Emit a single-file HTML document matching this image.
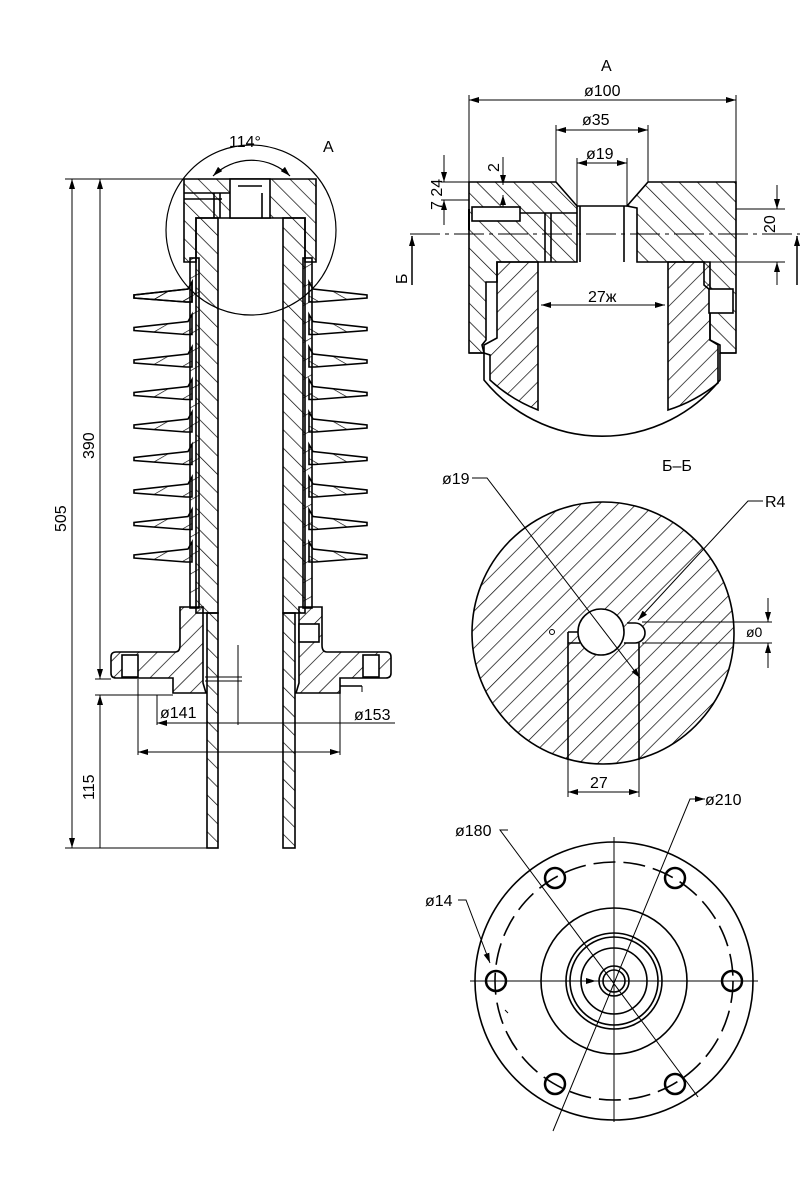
<!DOCTYPE html>
<html><head><meta charset="utf-8"><style>
html,body{margin:0;padding:0;background:#fff}
svg{display:block}
text{font-family:"Liberation Sans","DejaVu Sans",sans-serif;fill:#000}
</style></head><body>
<svg width="800" height="1200" viewBox="0 0 800 1200" xmlns="http://www.w3.org/2000/svg">
<defs>
<pattern id="hf" patternUnits="userSpaceOnUse" width="13" height="13" patternTransform="rotate(45)">
<line x1="0" y1="0" x2="0" y2="13" stroke="#000" stroke-width="1.4"/></pattern>
<pattern id="hb" patternUnits="userSpaceOnUse" width="13" height="13" patternTransform="rotate(-45)">
<line x1="0" y1="0" x2="0" y2="13" stroke="#000" stroke-width="1.4"/></pattern>
<pattern id="hs" patternUnits="userSpaceOnUse" width="16" height="16" patternTransform="rotate(60)">
<line x1="0" y1="0" x2="0" y2="16" stroke="#000" stroke-width="1.3"/></pattern>
<marker id="ar" viewBox="0 0 10 6" refX="10" refY="3" markerWidth="10" markerHeight="6" orient="auto-start-reverse" markerUnits="userSpaceOnUse">
<path d="M0,0 L10,3 L0,6 z" fill="#000"/></marker>
</defs>
<g stroke="#000" stroke-width="1.6" fill="none">

<!-- sheds -->
<g>
<path id="shL" d="M192,282 L188,289 L134,295 L134,298 L186,302 L192,302 z" fill="url(#hs)"/>
</g>
<g id="sheds">
<use href="#shL" y="0"/><use href="#shL" y="32.5"/><use href="#shL" y="65"/><use href="#shL" y="97.5"/><use href="#shL" y="130"/><use href="#shL" y="162.5"/><use href="#shL" y="195"/><use href="#shL" y="227.5"/><use href="#shL" y="260"/>
</g>
<g transform="translate(501,0) scale(-1,1)">
<use href="#sheds"/>
</g>
<rect x="190" y="258" width="9" height="350" fill="url(#hs)"/>
<rect x="303" y="258" width="9" height="350" fill="url(#hs)"/>
<!-- cap -->
<path d="M184,179 L316,179 L316,262 L305,262 L305,218 L196,218 L196,262 L184,262 z" fill="url(#hb)"/>
<rect x="230" y="179" width="40" height="39" fill="#fff"/>
<line x1="238" y1="186" x2="262" y2="186"/>
<line x1="184" y1="193" x2="230" y2="193"/>
<line x1="184" y1="199" x2="222" y2="199"/>
<line x1="214" y1="193" x2="214" y2="218"/><line x1="220" y1="193" x2="220" y2="218"/>
<line x1="262" y1="193" x2="262" y2="218"/>
<!-- tube -->
<rect x="196" y="218" width="22" height="395" fill="url(#hb)"/>
<rect x="283" y="218" width="22" height="395" fill="url(#hb)"/>
<rect x="207" y="613" width="11" height="235" fill="url(#hb)"/>
<rect x="283" y="613" width="12" height="235" fill="url(#hb)"/>
<!-- flange -->
<path d="M180,607 L203,607 L203,683 L206,693 L173,693 L173,678 L116,678 Q111,678 111,673 L111,657 Q111,652 116,652 L175,652 Q180,652 180,645 z" fill="url(#hf)"/>
<rect x="122" y="655" width="16" height="22" fill="#fff"/>
<path d="M322,607 L299,607 L299,683 L296,693 L340,693 L340,678 L386,678 Q391,678 391,673 L391,657 Q391,652 386,652 L327,652 Q322,652 322,645 z" fill="url(#hf)"/>
<rect x="363" y="655" width="16" height="22" fill="#fff"/>
<rect x="299" y="624" width="20" height="18" fill="#fff"/>
<line x1="340" y1="686" x2="362" y2="686"/><line x1="362" y1="686" x2="362" y2="692" stroke-width="1"/>
<circle cx="251" cy="230" r="85" stroke-width="1.2"/>
<path d="M213,176 A55,55 0 0 1 290,176" stroke-width="1.2" marker-start="url(#ar)" marker-end="url(#ar)"/>
</g>
<text x="229" y="147" font-size="16">114°</text>
<text x="323" y="152" font-size="16">A</text>

<g stroke="#000" stroke-width="1" fill="none">
<line x1="65" y1="179" x2="184" y2="179"/>
<line x1="65" y1="848" x2="207" y2="848"/>
<line x1="95" y1="679" x2="111" y2="679"/>
<line x1="95" y1="695" x2="173" y2="695"/>
<line x1="72" y1="179" x2="72" y2="848" marker-start="url(#ar)" marker-end="url(#ar)"/>
<line x1="100" y1="179" x2="100" y2="679" marker-start="url(#ar)" marker-end="url(#ar)"/>
<line x1="100" y1="695" x2="100" y2="848" marker-start="url(#ar)"/>
<line x1="157" y1="695" x2="157" y2="725"/>
<line x1="340" y1="693" x2="340" y2="755"/>
<line x1="138" y1="679" x2="138" y2="755"/>
<line x1="157" y1="723" x2="395" y2="723" marker-start="url(#ar)"/>
<line x1="138" y1="752" x2="340" y2="752" marker-start="url(#ar)" marker-end="url(#ar)"/>
<line x1="238" y1="645" x2="238" y2="725"/>
<line x1="205" y1="677" x2="242" y2="677"/><line x1="205" y1="681" x2="242" y2="681"/>
</g>
<text x="160" y="718" font-size="16">ø141</text>
<text x="354" y="720" font-size="16">ø153</text>
<text transform="translate(66,532) rotate(-90)" font-size="16">505</text>
<text transform="translate(94,459) rotate(-90)" font-size="16">390</text>
<text transform="translate(94,800) rotate(-90)" font-size="16">115</text>

<!-- DETAIL A -->
<g stroke="#000" stroke-width="1.6" fill="none">
<path d="M469,182 L556,182 L577,206 L577,262 L497,262 L497,282 L486,282 L486,340 L482,345 L484,353 L469,353 z" fill="url(#hb)"/>
<path d="M648,182 L736,182 L736,353 L720,353 L720,345 L710,340 L710,290 L704,285 L704,262 L637,262 L637,208 L627,206 z" fill="url(#hb)"/>
<rect x="472" y="207" width="48" height="14" fill="#fff"/>
<line x1="520" y1="213" x2="577" y2="213"/>
<line x1="469" y1="209" x2="469" y2="230" stroke-width="2"/>
<line x1="545" y1="213" x2="545" y2="262"/><line x1="551" y1="213" x2="551" y2="262"/>
<line x1="580" y1="206" x2="580" y2="262"/><line x1="624" y1="206" x2="624" y2="262"/>
<line x1="577" y1="206" x2="627" y2="206"/>
<path d="M497,262 L538,262 L538,410 A150,150 0 0 1 490,380 L490,355 L484,353 L484,345 L497,338 z" fill="url(#hf)"/>
<path d="M668,262 L710,262 L710,340 L718,345 L718,383 A150,150 0 0 1 668,410 z" fill="url(#hf)"/>
<rect x="709" y="289" width="24" height="24" fill="#fff"/>
<path d="M469,353 L484,353 M736,353 L720,353"/>
<path d="M484,353 L484,380 A152,152 0 0 0 720,380 L720,353"/>
</g>
<g stroke="#000" stroke-width="1" fill="none">
<line x1="469" y1="182" x2="469" y2="95"/><line x1="736" y1="182" x2="736" y2="95"/>
<line x1="469" y1="100" x2="736" y2="100" marker-start="url(#ar)" marker-end="url(#ar)"/>
<line x1="556" y1="182" x2="556" y2="125"/><line x1="648" y1="182" x2="648" y2="125"/>
<line x1="556" y1="130" x2="648" y2="130" marker-start="url(#ar)" marker-end="url(#ar)"/>
<line x1="577" y1="206" x2="577" y2="158"/><line x1="627" y1="206" x2="627" y2="158"/>
<line x1="577" y1="163" x2="627" y2="163" marker-start="url(#ar)" marker-end="url(#ar)"/>
<line x1="538" y1="262" x2="538" y2="310"/><line x1="668" y1="262" x2="668" y2="310"/>
<line x1="541" y1="305" x2="665" y2="305" marker-start="url(#ar)" marker-end="url(#ar)"/>
<line x1="441" y1="182" x2="469" y2="182"/><line x1="441" y1="200" x2="469" y2="200"/>
<line x1="444" y1="155" x2="444" y2="182" marker-end="url(#ar)"/>
<line x1="444" y1="200" x2="444" y2="225" marker-start="url(#ar)"/>
<line x1="503" y1="157" x2="503" y2="185" marker-end="url(#ar)"/>
<line x1="503" y1="207" x2="503" y2="195" marker-end="url(#ar)"/>
<line x1="736" y1="209" x2="785" y2="209"/><line x1="710" y1="262" x2="785" y2="262"/>
<line x1="777" y1="185" x2="777" y2="209" marker-end="url(#ar)"/>
<line x1="777" y1="285" x2="777" y2="262" marker-end="url(#ar)"/>
<line x1="410" y1="234" x2="800" y2="234" stroke-dasharray="30,5,4,5"/>
<line x1="412" y1="285" x2="412" y2="236" stroke-width="1.5" marker-end="url(#ar)"/>
<line x1="797" y1="285" x2="797" y2="236" stroke-width="1.5" marker-end="url(#ar)"/>
</g>
<text x="601" y="71" font-size="16">A</text>
<text x="584" y="96" font-size="16">ø100</text>
<text x="582" y="125" font-size="16">ø35</text>
<text x="586" y="159" font-size="16">ø19</text>
<text x="588" y="302" font-size="16">27ж</text>
<text transform="translate(442,210) rotate(-90)" font-size="16">7 24</text>
<text transform="translate(499,172) rotate(-90)" font-size="16">2</text>
<text transform="translate(775,233) rotate(-90)" font-size="16">20</text>
<text transform="translate(407,284) rotate(-90)" font-size="16">Б</text>

<!-- Б-Б -->
<g stroke="#000" stroke-width="1.6" fill="none">
<circle cx="603" cy="633" r="131" fill="url(#hf)"/>
<circle cx="601" cy="632" r="23" fill="#fff"/>
<path d="M627,623 L635,623 A7,7 0 0 1 635,643 L624,643" fill="#fff"/>
<path d="M568,632 L568,760 M639,643 L639,760 M568,632 L578,632 M568,643 L580,643"/>
<circle cx="552" cy="632" r="2.5" stroke-width="1"/>
</g>
<g stroke="#000" stroke-width="1" fill="none">
<line x1="568" y1="760" x2="568" y2="797"/><line x1="639" y1="760" x2="639" y2="797"/>
<line x1="568" y1="792" x2="639" y2="792" marker-start="url(#ar)" marker-end="url(#ar)"/>
<path d="M472,478 L487,478 L640,678" marker-end="url(#ar)"/>
<path d="M763,501 L748,501 L638,620" marker-end="url(#ar)"/>
<line x1="642" y1="622" x2="772" y2="622"/><line x1="642" y1="643" x2="772" y2="643"/>
<line x1="768" y1="598" x2="768" y2="622" marker-end="url(#ar)"/>
<line x1="768" y1="668" x2="768" y2="643" marker-end="url(#ar)"/>
</g>
<text x="662" y="471" font-size="16">Б–Б</text>
<text x="442" y="484" font-size="16">ø19</text>
<text x="765" y="507" font-size="16">R4</text>
<text x="746" y="637" font-size="14">ø0</text>
<text x="590" y="788" font-size="16">27</text>

<!-- BOTTOM VIEW -->
<g stroke="#000" stroke-width="1.6" fill="none">
<circle cx="614" cy="981" r="139"/>
<circle cx="614" cy="981" r="119" stroke-dasharray="22,8"/>
<circle cx="614" cy="981" r="73"/>
<circle cx="614" cy="981" r="48"/>
<circle cx="614" cy="981" r="44"/>
<circle cx="614" cy="981" r="33"/>
<circle cx="614" cy="981" r="15"/>
<circle cx="614" cy="981" r="11"/>
<g stroke-width="2.5">
<circle cx="496" cy="981" r="10"/><circle cx="732" cy="981" r="10"/>
<circle cx="555" cy="878" r="10"/><circle cx="675" cy="878" r="10"/>
<circle cx="555" cy="1084" r="10"/><circle cx="675" cy="1084" r="10"/>
</g>
</g>
<g stroke="#000" stroke-width="1" fill="none">
<line x1="470" y1="981" x2="758" y2="981"/>
<line x1="614" y1="837" x2="614" y2="1122"/>
<path d="M508,830 L500,830 L698,1097"/>
<path d="M705,799 L690,799 L553,1131" marker-start="url(#ar)"/>
<path d="M458,900 L466,900 L490,963" marker-end="url(#ar)"/>
<line x1="505" y1="1010" x2="508" y2="1013"/>
<line x1="580" y1="981" x2="596" y2="981" marker-end="url(#ar)"/>
</g>
<text x="705" y="805" font-size="16">ø210</text>
<text x="455" y="836" font-size="16">ø180</text>
<text x="425" y="906" font-size="16">ø14</text>
</svg>
</body></html>
